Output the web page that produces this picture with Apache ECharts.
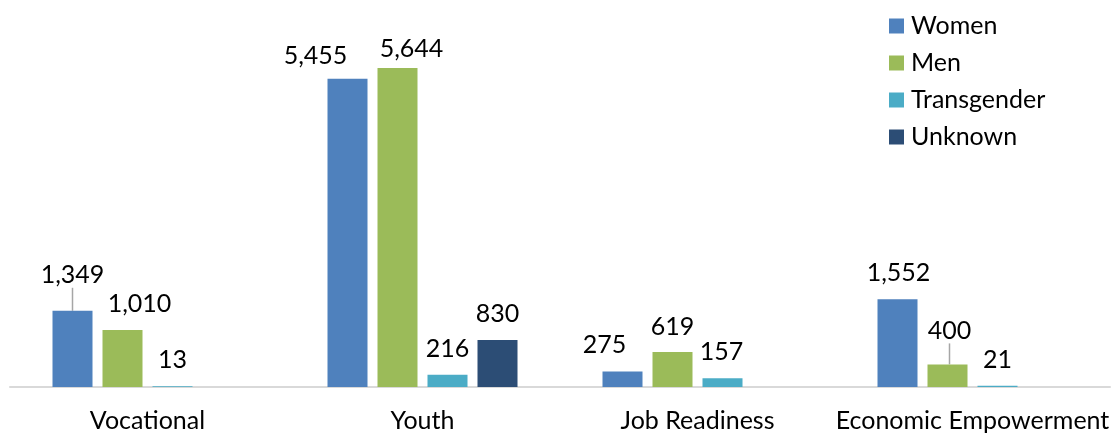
<!DOCTYPE html>
<html>
<head>
<meta charset="utf-8">
<script src="https://cdn.jsdelivr.net/npm/echarts@6/dist/echarts.min.js"></script>
<style>
  html, body { margin: 0; padding: 0; background: #fff; }
  #chart { width: 1113px; height: 433px; }
</style>
</head>
<body>
<div id="chart"></div>
<script>
// Programme participants by gender
const categories = ['Vocational', 'Youth', 'Job Readiness', 'Economic Empowerment'];
const seriesNames = ['Women', 'Men', 'Transgender', 'Unknown'];
const women = [1349, 5455, 275, 1552];
const men = [1010, 5644, 619, 400];
const transgender = [13, 216, 157, 21];
const unknown = [null, 830, null, null];

const colors = ['#4f81bd', '#9bbb59', '#4bacc6', '#2c4d75'];
const FONT = 'Lato';
const FS = 25;

// Hand-placed label nudges [dx, dy] per series / category, relative to the default 'top' spot
const labelNudge = [
  [[0, -18], [-32, -5], [-18, -9], [1, -9]],
  [[17, -8], [14, -2], [0, -8], [2, -16]],
  [[0, -9], [0, -8], [-1, -9], [0, -8]],
  [[0, 0], [0, -9], [0, 0], [0, 0]]
];
// Labels that keep a guide line back to their bar
const guided = { '0-0': true, '1-3': true };

const fmt = v => Number(v).toLocaleString('en-US');

function buildData(values, si) {
  return values.map((v, di) => ({
    value: v,
    labelLine: { show: !!guided[si + '-' + di] }
  }));
}

const allValues = [women, men, transgender, unknown];

const chart = echarts.init(document.getElementById('chart'), null, { renderer: 'canvas' });

chart.setOption({
  animation: false,
  color: colors,
  textStyle: { fontFamily: FONT },
  legend: {
    orient: 'vertical',
    left: 884,
    top: 8,
    itemWidth: 15,
    itemHeight: 15,
    itemGap: 11,
    icon: 'rect',
    textStyle: { fontFamily: FONT, fontSize: FS, color: '#000', lineHeight: 26, padding: [0, 0, 0, 2] },
    data: seriesNames
  },
  grid: { left: 10, right: 3, top: 48, bottom: 46, containLabel: false },
  xAxis: {
    type: 'category',
    data: categories,
    axisLine: { lineStyle: { color: '#d9d9d9', width: 2 } },
    axisTick: { show: false },
    axisLabel: { fontFamily: FONT, fontSize: FS, color: '#000', margin: 21, interval: 0 }
  },
  yAxis: {
    type: 'value',
    min: 0,
    max: 6000,
    show: false,
    splitLine: { show: false }
  },
  labelLayout: function (p) {
    const n = labelNudge[p.seriesIndex] && labelNudge[p.seriesIndex][p.dataIndex];
    return n ? { dx: n[0], dy: n[1] } : {};
  },
  series: allValues.map((vals, si) => ({
    name: seriesNames[si],
    type: 'bar',
    barWidth: 40,
    barGap: '25%',
    data: buildData(vals, si),
    label: {
      show: true,
      position: 'top',
      distance: 5,
      fontFamily: FONT,
      fontSize: FS,
      color: '#000',
      formatter: p => fmt(p.value)
    },
    labelLine: {
      show: false,
      lineStyle: { color: '#a6a6a6', width: 1.5 }
    }
  }))
});
</script>
</body>
</html>
